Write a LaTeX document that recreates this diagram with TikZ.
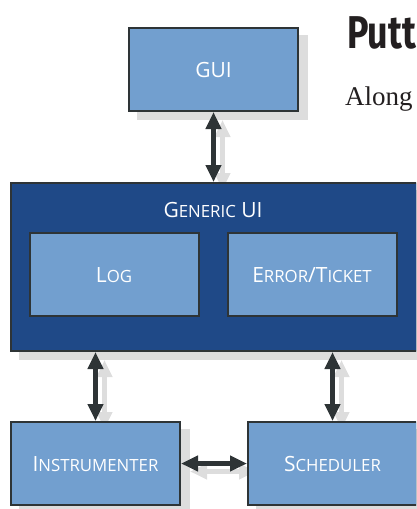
\documentclass[tikz,border=0pt]{standalone}
\usepackage{graphicx}
\usepackage{fontspec}
\setsansfont{Open Sans}
\newfontfamily\headfont{Fira Sans}
\newfontfamily\bodyfont{Liberation Serif}
\usetikzlibrary{positioning}
\usetikzlibrary{arrows.meta}
\pgfdeclarelayer{background}
\pgfsetlayers{background,main}

\definecolor{boxblue}{RGB}{114,159,207}
\definecolor{darkblue}{RGB}{31,73,135}
\definecolor{edgegray}{RGB}{46,52,54}
\definecolor{shadowgray}{RGB}{221,221,221}
\definecolor{headblack}{RGB}{35,31,32}

\newcommand\smallcap[2]{#1{\fontsize{16.8}{17}\selectfont #2}}

\tikzset{
	module/.style={draw=edgegray, line width=2pt, fill=boxblue, text=white,
		font=\sffamily\fontsize{21}{22}\selectfont, text height=15pt, text depth=0pt,
		minimum width=169pt, minimum height=83pt, inner sep=0pt},
	link/.style={draw=edgegray, line width=5pt,
		{Triangle[width=15pt,length=17pt]}-{Triangle[width=15pt,length=17pt]}},
	linkshadow/.style={link, draw=shadowgray}
}

\begin{document}
\begin{tikzpicture}[x=1pt,y=-1pt]
				\clip (0,0) rectangle (416,509);

				\node [module] (gui) at (213.5,69.5) {GUI};
				\node [module, fill=darkblue, minimum width=406pt, minimum height=168pt] (generic) at (214,267) {};
				\node [anchor=base, text=white, font=\sffamily\fontsize{21}{22}\selectfont, inner sep=0pt] (genlabel) at (213,217) {\smallcap{G}{ENERIC} UI};

				\node [module] (log) at (114,274.5) {\smallcap{L}{OG}};
				\node [module] (ticket) at (312,274.5) {\smallcap{E}{RROR}/\smallcap{T}{ICKET}};

				\node [module] (instr) at (95.5,463.5) {\smallcap{I}{NSTRUMENTER}};
				\node [module, right = 66pt of instr] (sched) {\smallcap{S}{CHEDULER}};

				\draw [link] (gui.south) -- (gui.south |- generic.north);
				\draw [link] (instr.north) -- (instr.north |- generic.south);
				\draw [link] (sched.north) -- (sched.north |- generic.south);
				\draw [link] (instr.east) -- (sched.west);

				\node [anchor=base west, text=headblack, font=\headfont\bfseries\fontsize{46}{46}\selectfont, inner sep=0pt] (title) at (347,48) {\scalebox{0.78}[1]{Putt}};
				\node [anchor=base west, text=headblack, font=\bodyfont\fontsize{27}{27}\selectfont, inner sep=0pt] (intro) at (345,105) {Along};

				\begin{pgfonlayer}{background}
					\foreach \n in {gui,generic,instr,sched}
						\fill [shadowgray] ([shift={(9,8)}]\n.north west) rectangle ([shift={(9,8)}]\n.south east);
					\draw [linkshadow] ([shift={(9,8)}]gui.south) -- ([shift={(9,8)}]gui.south |- generic.north);
					\draw [linkshadow] ([shift={(9,8)}]instr.north) -- ([shift={(9,8)}]instr.north |- generic.south);
					\draw [linkshadow] ([shift={(9,8)}]sched.north) -- ([shift={(9,8)}]sched.north |- generic.south);
					\draw [linkshadow] ([shift={(9,8)}]instr.east) -- ([shift={(9,8)}]sched.west);
				\end{pgfonlayer}
			\end{tikzpicture}
\end{document}
